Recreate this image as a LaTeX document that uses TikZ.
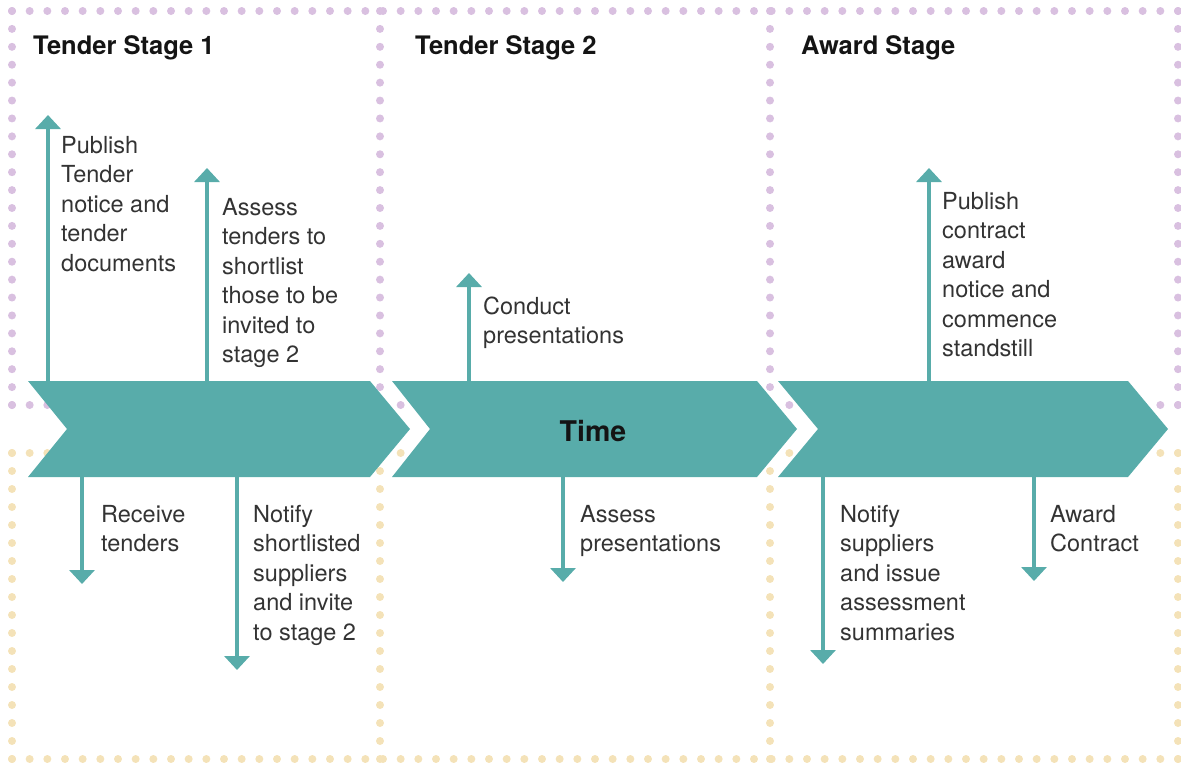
\documentclass[tikz,border=0pt]{standalone}
\usepackage{fontspec}
\setmainfont{TeX Gyre Heros}
\usetikzlibrary{arrows.meta}

\definecolor{tealband}{HTML}{58ACAA}
\definecolor{lilac}{HTML}{D9C0E0}
\definecolor{sand}{HTML}{F4E2B8}
\definecolor{ink}{HTML}{333333}

% evenly spaced round dots along an axis-parallel run from (#2,#3) to (#4,#5), colour #1
\newcommand\dotline[5]{%
  \pgfmathsetmacro\dlen{abs(#4-#2)+abs(#5-#3)}%
  \pgfmathtruncatemacro\dnum{round(\dlen/17.6)}%
  \pgfmathsetmacro\dstepx{(#4-#2)/\dnum}%
  \pgfmathsetmacro\dstepy{(#5-#3)/\dnum}%
  \foreach \k in {0,...,\dnum}{%
    \fill[#1] ({#2+\dstepx*\k},{#3+\dstepy*\k}) circle[radius=4pt];
  }%
}

\begin{document}
\begin{tikzpicture}[x=1pt,y=-1pt,
  stagetitle/.style={anchor=base west,inner sep=0pt,
    font=\fontsize{25.5}{29}\selectfont\bfseries,text=black!92},
  % multi-line texts: placed by the baseline of their last line
  steptext/.style={anchor=base west,inner sep=0pt,align=left,
    font=\fontsize{23.5}{29.5}\selectfont,text=ink},
  chevron/.style={fill=tealband},
  vline/.style={draw=tealband,line width=3.5pt,
    -{Triangle[width=25pt,length=14pt]}}]

\useasboundingbox (0,0) rectangle (1181,763);

% upper (lilac) frame
\dotline{lilac}{12}{11}{1178}{11}
\dotline{lilac}{12}{405}{1178}{405}
\dotline{lilac}{12}{11}{12}{405}
\dotline{lilac}{380}{11}{380}{405}
\dotline{lilac}{770}{11}{770}{405}
\dotline{lilac}{1178}{11}{1178}{405}

% lower (sand) frame
\dotline{sand}{12}{453}{1178}{453}
\dotline{sand}{12}{759}{1178}{759}
\dotline{sand}{12}{453}{12}{759}
\dotline{sand}{380}{453}{380}{759}
\dotline{sand}{770}{453}{770}{759}
\dotline{sand}{1178}{453}{1178}{759}

% time band of three chevrons
\fill[chevron] (28,381) -- (370,381) -- (410,429) -- (370,477) -- (28,477) -- (67,429) -- cycle;
\fill[chevron] (392,381) -- (757,381) -- (797,429) -- (757,477) -- (392,477) -- (430,429) -- cycle;
\fill[chevron] (778,381) -- (1128,381) -- (1168,429) -- (1128,477) -- (778,477) -- (818,429) -- cycle;
\node[font=\fontsize{28.5}{32}\selectfont\bfseries,text=black!92,inner sep=0pt] (time) at (593,431) {Time};

% stage titles
\node[stagetitle] (s1) at (33,54) {Tender Stage 1};
\node[stagetitle] (s2) at (415,54) {Tender Stage 2};
\node[stagetitle] (s3) at (801,54) {Award Stage};

% arrow roots on the band and their tips
\coordinate (u1) at (48,381);   \coordinate (u1t) at (48,115);
\coordinate (u2) at (207,381);  \coordinate (u2t) at (207,168);
\coordinate (u3) at (469,381);  \coordinate (u3t) at (469,273);
\coordinate (u4) at (929,381);  \coordinate (u4t) at (929,168);
\coordinate (d1) at (82,477);   \coordinate (d1t) at (82,584);
\coordinate (d2) at (237,477);  \coordinate (d2t) at (237,670);
\coordinate (d3) at (563,477);  \coordinate (d3t) at (563,582);
\coordinate (d4) at (823,477);  \coordinate (d4t) at (823,664);
\coordinate (d5) at (1034,477); \coordinate (d5t) at (1034,581);

\foreach \a in {u1,u2,u3,u4,d1,d2,d3,d4,d5}
  \draw[vline] (\a) -- (\a t);

% activities above the band
\node[steptext] (t1) at (61,271) {Publish\\Tender\\notice and\\tender\\documents};
\node[steptext] (t2) at (222,362.5) {Assess\\tenders to\\shortlist\\those to be\\invited to\\stage 2};
\node[steptext] (t3) at (483,343.5) {Conduct\\presentations};
\node[steptext] (t4) at (942,356.5) {Publish\\contract\\award\\notice and\\commence\\standstill};

% activities below the band
\node[steptext] (b1) at (101,551.5) {Receive\\tenders};
\node[steptext] (b2) at (253,640) {Notify\\shortlisted\\suppliers\\and invite\\to stage 2};
\node[steptext] (b3) at (580,551.5) {Assess\\presentations};
\node[steptext] (b4) at (840,640) {Notify\\suppliers\\and issue\\assessment\\summaries};
\node[steptext] (b5) at (1050,551.5) {Award\\Contract};
\end{tikzpicture}
\end{document}
